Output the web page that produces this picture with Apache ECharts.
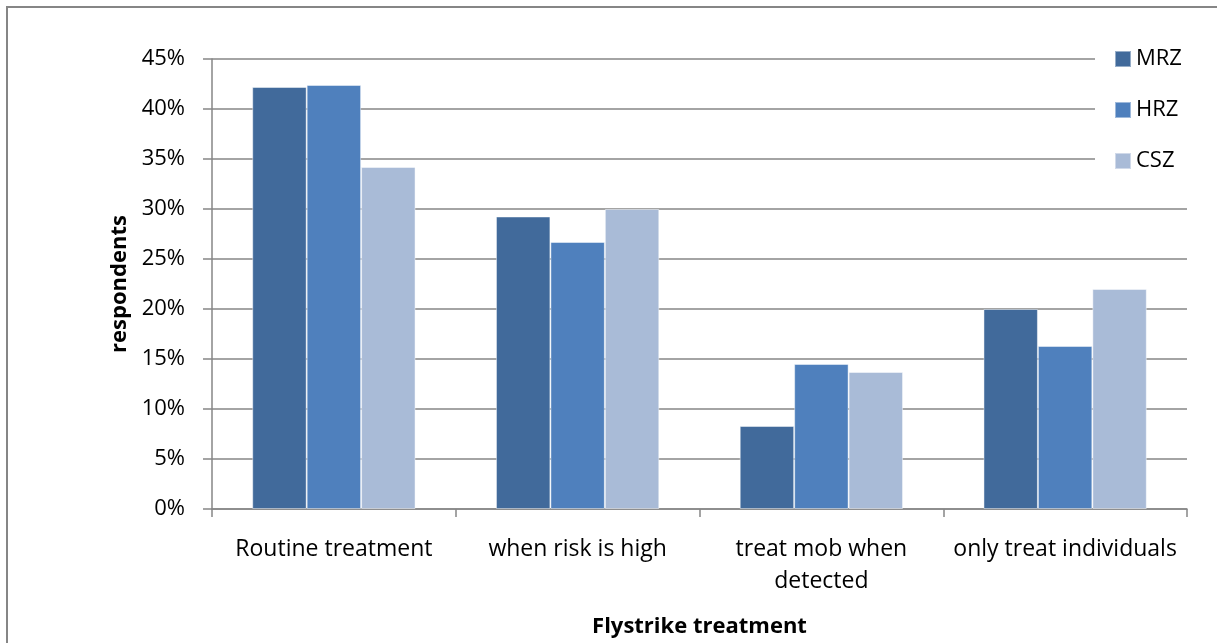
<!DOCTYPE html>
<html>
<head>
<meta charset="utf-8">
<script src="https://cdn.jsdelivr.net/npm/echarts@6/dist/echarts.min.js"></script>
<style>
html,body{margin:0;padding:0;background:#fff;}
#chart{width:1217px;height:643px;}
</style>
</head>
<body>
<div id="chart"></div>
<script>
var categories = ['Routine treatment', 'when risk is high', 'treat mob when\ndetected', 'only treat individuals'];
var seriesNames = ['MRZ', 'HRZ', 'CSZ'];
var mrz = [42.2, 29.25, 8.3, 20.0];
var hrz = [42.4, 26.7, 14.5, 16.3];
var csz = [34.2, 30.0, 13.7, 22.0];
var yTicks = [0, 5, 10, 15, 20, 25, 30, 35, 40, 45];
var colors = ['#416a9b', '#4f80bd', '#a9bbd7'];
var FONT = '"Open Sans", sans-serif';
var values = [mrz, hrz, csz];

var chart = echarts.init(document.getElementById('chart'), null, {renderer: 'canvas'});
var series = seriesNames.map(function (n, i) {
  return {
    name: n,
    type: 'bar',
    data: values[i],
    barGap: '0%',
    barCategoryGap: '33%',
    itemStyle: {color: colors[i], borderColor: 'rgba(255,255,255,0.45)', borderWidth: 1},
    emphasis: {disabled: true}
  };
});
chart.setOption({
  animation: false,
  backgroundColor: '#fff',
  textStyle: {fontFamily: FONT},
  graphic: [{
    type: 'polyline',
    shape: {points: [[7, 643], [7, 7], [1217, 7]]},
    style: {stroke: '#868686', lineWidth: 2, fill: null},
    z: 100
  }],
  grid: {left: 212, right: 30, top: 59, bottom: 132, containLabel: false},
  legend: {
    orient: 'vertical',
    left: 1095,
    top: 31,
    padding: [17, 20, 22, 19],
    backgroundColor: '#fff',
    itemWidth: 16,
    itemHeight: 16,
    itemGap: 29,
    icon: 'rect',
    z: 10,
    textStyle: {fontFamily: FONT, fontSize: 22, color: '#000', lineHeight: 20, padding: [0, 0, 0, 0]},
    data: seriesNames
  },
  xAxis: {
    type: 'category',
    data: categories,
    axisLine: {show: true, lineStyle: {color: '#868686', width: 1.5}},
    axisTick: {show: true, length: 8, lineStyle: {color: '#868686', width: 1.5}},
    axisLabel: {fontFamily: FONT, fontSize: 23, color: '#000', margin: 24, lineHeight: 32, interval: 0},
    name: 'Flystrike treatment',
    nameLocation: 'middle',
    nameGap: 107,
    nameTextStyle: {fontFamily: FONT, fontSize: 22, fontWeight: 'bold', color: '#000'}
  },
  yAxis: {
    type: 'value',
    min: yTicks[0],
    max: yTicks[yTicks.length - 1],
    interval: yTicks[1] - yTicks[0],
    axisLine: {show: true, lineStyle: {color: '#868686', width: 1.5}},
    axisTick: {show: true, length: 9, inside: false, lineStyle: {color: '#868686', width: 1.5}},
    splitLine: {show: true, lineStyle: {color: '#868686', width: 1.5}},
    axisLabel: {fontFamily: FONT, fontSize: 22, color: '#000', margin: 27, formatter: '{value}%'},
    name: 'respondents',
    nameLocation: 'middle',
    nameGap: 80,
    nameRotate: 90,
    nameTextStyle: {fontFamily: FONT, fontSize: 22, fontWeight: 'bold', color: '#000'}
  },
  series: series
});
</script>
</body>
</html>
